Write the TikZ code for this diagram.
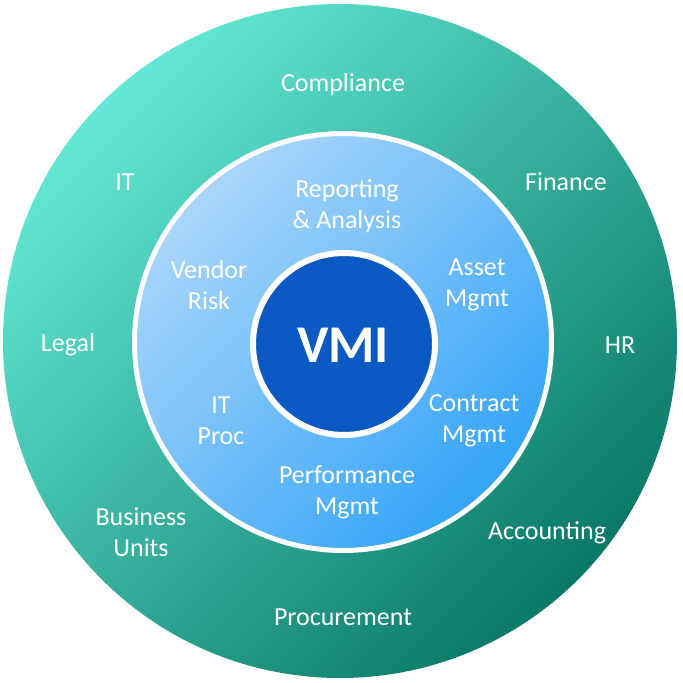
\documentclass[tikz,border=0pt]{standalone}
\usepackage{fontspec}
\setmainfont{Carlito}
\usepackage{tikz}
\usetikzlibrary{positioning}
\usepackage{xcolor}

\definecolor{tealLight}{RGB}{98,232,212}
\definecolor{tealDark}{RGB}{10,120,102}
\definecolor{blueLight}{RGB}{170,214,250}
\definecolor{blueDark}{RGB}{52,164,248}
\definecolor{vmiBlue}{RGB}{11,90,196}

\tikzset{
    ringlabel/.style={text=white, align=center, font=\fontsize{26}{31}\selectfont, inner sep=0pt}
}

\begin{document}
\begin{tikzpicture}[x=1pt, y=-1pt]
            \useasboundingbox (0,0) rectangle (683,683);

            % Outer ring: departments
            \shade[top color=tealLight, bottom color=tealDark, shading angle=45] (340,341) circle (337);

            % Middle ring: VMI functions
            \shade[top color=blueLight, bottom color=blueDark, shading angle=45] (343,342) circle (208.5);
            \draw[white, line width=5pt] (343,342) circle (208.5);

            % Core
            \fill[vmiBlue] (344,344) circle (91);
            \draw[white, line width=6pt] (344,344) circle (91);
            \node[text=white, font=\fontsize{53}{60}\selectfont\bfseries, inner sep=0pt] (vmi) at (343,345) {VMI};

            % Department labels
            \node[ringlabel] (compliance) at (343,85) {Compliance};
            \node[ringlabel] (itdept) at (125,182) {IT};
            \node[ringlabel] (finance) at (566,182) {Finance};
            \node[ringlabel] (legal) at (68,345) {Legal};
            \node[ringlabel] (hr) at (620,345) {HR};
            \node[ringlabel] (business) at (141,532) {Business\\Units};
            \node[ringlabel] (accounting) at (547,533) {Accounting};
            \node[ringlabel] (procurement) at (343,617) {Procurement};

            % Function labels
            \node[ringlabel] (reporting) at (347,206) {Reporting\\\& Analysis};
            \node[ringlabel] (vendorrisk) at (209,285) {Vendor\\Risk};
            \node[ringlabel] (asset) at (477,285) {Asset\\Mgmt};
            \node[ringlabel] (itproc) at (221,421) {IT\\Proc};
            \node[ringlabel] (contract) at (474,421) {Contract\\Mgmt};
            \node[ringlabel] (performance) at (347,492) {Performance\\Mgmt};

        \end{tikzpicture}
\end{document}
